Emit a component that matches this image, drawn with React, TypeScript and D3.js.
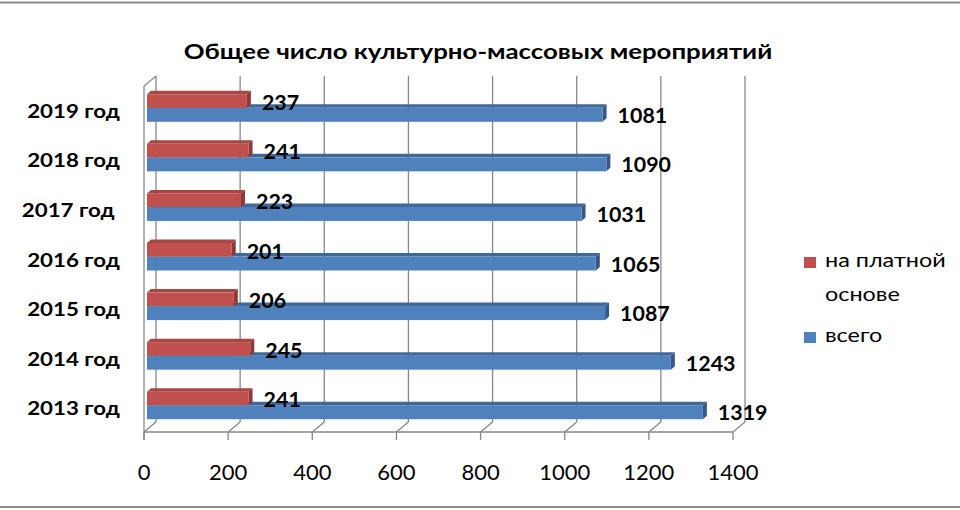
import React from "react";
import * as d3 from "d3";

const TITLE = "Общее число культурно-массовых мероприятий";
const YEARS = ["2013 год", "2014 год", "2015 год", "2016 год", "2017 год ", "2018 год", "2019 год"];
const PAID = [241, 245, 206, 201, 223, 241, 237];
const TOTAL = [1319, 1243, 1087, 1065, 1031, 1090, 1081];
const TICKS = [0, 200, 400, 600, 800, 1000, 1200, 1400];
const LEGEND = [
  { lines: ["на платной", "основе"], color: "#C0504D" },
  { lines: ["всего"], color: "#4F81BD" },
];

const FONT = "Lato, 'Open Sans', sans-serif";
const GRID = "#878787";

// wall depth offset and bar depth offset (fake 3D like Excel)
const DX = 12;
const DY = -10;
const BDX = 4;
const BDY = -3.5;

const FLOOR_Y = 432;
const TOP_Y = 76;

function Label(props: any) {
  const { x, y, sx, anchor = "start", size, weight = "normal", children, pre = false } = props;
  return (
    <g transform={`translate(${x},${y}) scale(${sx},1)`}>
      <text
        textAnchor={anchor}
        fontFamily={FONT}
        fontSize={size}
        fontWeight={weight}
        fill="#000"
        style={pre ? { whiteSpace: "pre" } : undefined}
      >
        {children}
      </text>
    </g>
  );
}

const poly = (pts: number[][]) => pts.map((p) => p.join(",")).join(" ");

export default function App() {
  const xFront = d3.scaleLinear().domain([0, 1400]).range([144, 733]);
  const xBar = d3.scaleLinear().domain([0, 1400]).range([147, 737]);
  const y = d3.scaleBand<string>().domain(YEARS).range([430, 83]);
  const bw = y.bandwidth();

  return (
    <svg width={960} height={510} style={{ position: "absolute", left: 0, top: 0, background: "#fff" }}>
      {/* frame lines */}
      <line x1={0} x2={960} y1={2.5} y2={2.5} stroke="#8c8c8c" strokeWidth={2} />
      <line x1={0} x2={960} y1={507} y2={507} stroke="#8c8c8c" strokeWidth={2} />

      <Label x={478} y={59} sx={1.23} anchor="middle" size={21} weight="bold">
        {TITLE}
      </Label>

      {/* walls and gridlines */}
      <g stroke={GRID} strokeWidth={1.3} fill="none">
        <line x1={xFront(0)} x2={xFront(0)} y1={TOP_Y - DY} y2={FLOOR_Y + 8} />
        <line x1={xFront(0)} x2={xFront(0) + DX} y1={TOP_Y - DY} y2={TOP_Y} />
        <line x1={xFront(0)} x2={xFront(1400)} y1={FLOOR_Y} y2={FLOOR_Y} />
        {TICKS.map((t) => (
          <g key={t}>
            <line x1={xFront(t) + DX} x2={xFront(t) + DX} y1={TOP_Y} y2={FLOOR_Y + DY} />
            <line x1={xFront(t) + DX} x2={xFront(t)} y1={FLOOR_Y + DY} y2={FLOOR_Y} />
            <line x1={xFront(t)} x2={xFront(t)} y1={FLOOR_Y} y2={FLOOR_Y + 8} />
          </g>
        ))}
      </g>

      {/* bars */}
      {YEARS.map((yr, i) => {
        const c = (y(yr) as number) + bw / 2;
        const x0 = xBar(0);
        const xb = xBar(TOTAL[i]);
        const xr = xBar(PAID[i]);
        const rTop = c - 13.5;
        const bBot = c + 14;
        return (
          <g key={yr}>
            <polygon points={poly([[x0, c], [x0 + BDX, c + BDY], [xb + BDX, c + BDY], [xb, c]])} fill="#3F689B" />
            <polygon points={poly([[xb, c], [xb + BDX, c + BDY], [xb + BDX, bBot + BDY], [xb, bBot]])} fill="#345787" />
            <rect x={x0} y={c} width={xb - x0} height={bBot - c} fill="#4F81BD" />
            <polygon points={poly([[x0, rTop], [x0 + BDX, rTop + BDY], [xr + BDX, rTop + BDY], [xr, rTop]])} fill="#A84644" />
            <polygon points={poly([[xr, rTop], [xr + BDX, rTop + BDY], [xr + BDX, c + BDY], [xr, c]])} fill="#8B3937" />
            <rect x={x0} y={rTop} width={xr - x0} height={c - rTop} fill="#C0504D" />

            <Label x={xr + 15} y={c + 2} sx={1.07} size={20} weight="bold">
              {PAID[i]}
            </Label>
            <Label x={xb + 15} y={c + 15} sx={1.07} size={20} weight="bold">
              {TOTAL[i]}
            </Label>
            <Label x={120} y={c + 10} sx={1.24} anchor="end" size={18} weight="bold" pre={true}>
              {yr}
            </Label>
          </g>
        );
      })}

      {/* x tick labels */}
      {TICKS.map((t) => (
        <Label key={t} x={xFront(t)} y={480} sx={1} anchor="middle" size={22}>
          {t}
        </Label>
      ))}

      {/* legend */}
      {LEGEND.map((item, k) => {
        const top = k === 0 ? 257 : 332;
        return (
          <g key={k}>
            <rect x={804} y={top} width={12} height={11} fill={item.color} />
            {item.lines.map((ln, j) => (
              <Label key={j} x={825} y={top + 10 + j * 34} sx={1.17} size={20}>
                {ln}
              </Label>
            ))}
          </g>
        );
      })}
    </svg>
  );
}
